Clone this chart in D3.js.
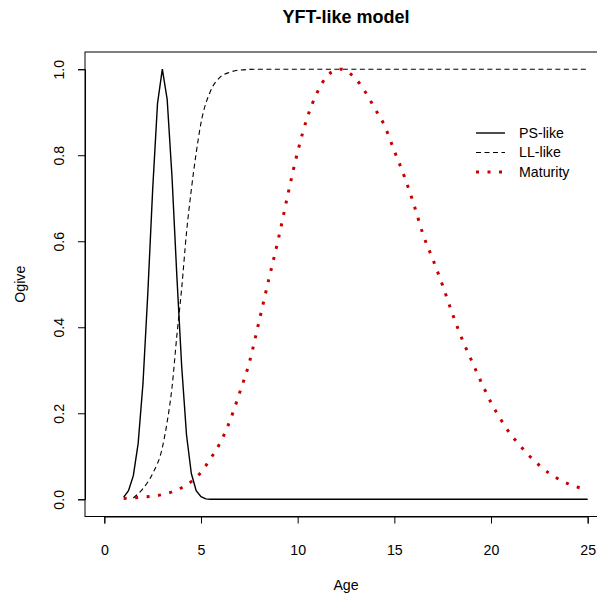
<!DOCTYPE html>
<html>
<head>
<meta charset="utf-8">
<script src="https://cdn.jsdelivr.net/npm/d3@7"></script>
<style>
    body { margin: 0; background: #fff; }
    #chart-area { width: 597px; height: 597px; overflow: hidden; }
    text { font-family: "Liberation Sans", Arial, sans-serif; fill: #000; }
</style>
</head>
<body>
<div id="chart-area"></div>
<script>

// values
let psAges = [1, 1.25, 1.5, 1.75, 2, 2.25, 2.5, 2.75, 3, 3.25, 3.5, 3.75, 4, 4.25, 4.5, 4.75, 5, 5.25, 5.5, 25];
let psLike = [0.005, 0.02, 0.055, 0.13, 0.27, 0.48, 0.72, 0.92, 1.0, 0.93, 0.75, 0.52, 0.31, 0.15, 0.06, 0.02, 0.006, 0.001, 0, 0];

let llAges = [1.5, 2, 2.5, 3, 3.25, 3.5, 3.75, 4, 4.25, 4.5, 4.75, 5, 5.5, 6, 6.5, 7, 8, 25];
let llLike = [0.003, 0.025, 0.06, 0.12, 0.18, 0.26, 0.38, 0.49, 0.62, 0.72, 0.805, 0.875, 0.95, 0.982, 0.993, 0.998, 1.0, 1.0];

let matAges = [1, 2, 3, 4, 5, 5.5, 6, 6.5, 7, 7.5, 8, 8.5, 9, 9.5, 10, 10.5, 11, 11.5, 12, 12.3, 12.5, 13,
    13.5, 14, 14.5, 15, 15.5, 16, 16.5, 17, 17.5, 18, 18.5, 19, 19.5, 20, 20.5, 21, 21.5, 22, 22.5, 23,
    23.5, 24, 24.5, 25];
let maturity = [0.002, 0.005, 0.011, 0.027, 0.063, 0.095, 0.132, 0.183, 0.248, 0.318, 0.413, 0.51, 0.605,
    0.71, 0.808, 0.888, 0.945, 0.983, 0.998, 1.0, 0.996, 0.978, 0.947, 0.908, 0.868, 0.81, 0.753, 0.687,
    0.614, 0.557, 0.497, 0.432, 0.373, 0.322, 0.272, 0.225, 0.186, 0.152, 0.125, 0.1, 0.079, 0.061, 0.047,
    0.036, 0.028, 0.022];

let xTicks = [0, 5, 10, 15, 20, 25];
let yTicks = [0, 0.2, 0.4, 0.6, 0.8, 1.0];
let seriesNames = ["PS-like", "LL-like", "Maturity"];


class OgiveChart {

    constructor(parentElement) {
        this.parentElement = parentElement;
        this.series = [
            {name: seriesNames[0], data: psAges.map((a, i) => [a, psLike[i]]),
             stroke: "#000", width: 1.4, dash: null, curve: d3.curveLinear},
            {name: seriesNames[1], data: llAges.map((a, i) => [a, llLike[i]]),
             stroke: "#000", width: 1.1, dash: "5,3.5", curve: d3.curveMonotoneX},
            {name: seriesNames[2], data: matAges.map((a, i) => [a, maturity[i]]),
             stroke: "#c80000", width: 3, dash: "3,8.5", curve: d3.curveMonotoneX}
        ];
        this.fontSize = 14.2;
        this.initVis();
    }

    initVis() {
        let vis = this;

        vis.margin = {top: 52, right: -10, bottom: 80.5, left: 85};
        vis.width = 597 - vis.margin.left - vis.margin.right;
        vis.height = 597 - vis.margin.top - vis.margin.bottom;

        vis.svg = d3.select("#" + vis.parentElement).append("svg")
            .attr("width", 597)
            .attr("height", 597)
            .append("g")
            .attr("transform", `translate(${vis.margin.left}, ${vis.margin.top})`);

        // R style: axis range padded by 4% on each side
        vis.x = d3.scaleLinear()
            .domain([-1, 26])
            .range([0, vis.width]);
        vis.y = d3.scaleLinear()
            .domain([-0.04, 1.04])
            .range([vis.height, 0]);

        // axes only span the tick range, not the whole box
        let xAxisScale = vis.x.copy().domain([0, 25]).range([vis.x(0), vis.x(25)]);
        let yAxisScale = vis.y.copy().domain([0, 1]).range([vis.y(0), vis.y(1)]);

        vis.xAxis = d3.axisBottom(xAxisScale)
            .tickValues(xTicks)
            .tickFormat(d3.format("d"))
            .tickSizeOuter(0)
            .tickSize(7)
            .tickPadding(21.5);
        vis.yAxis = d3.axisLeft(yAxisScale)
            .tickValues(yTicks)
            .tickFormat(d3.format(".1f"))
            .tickSizeOuter(0)
            .tickSize(7);

        vis.svg.append("g")
            .attr("class", "x-axis axis")
            .attr("transform", `translate(0, ${vis.height})`)
            .call(vis.xAxis);
        vis.svg.append("g")
            .attr("class", "y-axis axis")
            .call(vis.yAxis);

        vis.svg.selectAll(".axis text")
            .attr("font-size", vis.fontSize)
            .attr("font-family", "Liberation Sans, Arial, sans-serif");
        vis.svg.selectAll(".axis path, .axis line")
            .attr("stroke", "#000");

        // rotated y labels, like R's las = 0
        vis.svg.select(".y-axis").selectAll("text")
            .attr("transform", "rotate(-90)")
            .attr("x", 0)
            .attr("y", -26)
            .attr("dy", "0.35em")
            .attr("text-anchor", "middle");

        // plot box
        vis.svg.append("rect")
            .attr("x", 0)
            .attr("y", 0)
            .attr("width", vis.width)
            .attr("height", vis.height)
            .attr("fill", "none")
            .attr("stroke", "#000")
            .attr("stroke-width", 1);

        // titles
        vis.svg.append("text")
            .attr("x", vis.width / 2)
            .attr("y", -29.3)
            .attr("text-anchor", "middle")
            .attr("font-size", 18)
            .attr("font-weight", "bold")
            .text("YFT-like model");
        vis.svg.append("text")
            .attr("x", vis.width / 2)
            .attr("y", vis.height + 73.5)
            .attr("text-anchor", "middle")
            .attr("font-size", vis.fontSize)
            .text("Age");
        vis.svg.append("text")
            .attr("transform", `translate(${20 - vis.margin.left}, ${vis.height / 2}) rotate(-90)`)
            .attr("text-anchor", "middle")
            .attr("dy", "0.35em")
            .attr("font-size", vis.fontSize)
            .text("Ogive");

        vis.updateVis();
    }

    updateVis() {
        let vis = this;

        vis.series.forEach(s => {
            vis.svg.append("path").datum(s.data)
                .attr("fill", "none")
                .attr("stroke", s.stroke)
                .attr("stroke-width", s.width)
                .attr("stroke-dasharray", s.dash)
                .attr("d", d3.line()
                    .curve(s.curve)
                    .x(d => vis.x(d[0]))
                    .y(d => vis.y(d[1]))
                );
        });

        // legend, no box
        let legend = vis.svg.append("g")
            .attr("transform", `translate(${476 - vis.margin.left}, ${133 - vis.margin.top})`);
        vis.series.forEach((s, i) => {
            let row = legend.append("g").attr("transform", `translate(0, ${i * 19.5})`);
            row.append("line")
                .attr("x1", 0).attr("x2", 29)
                .attr("stroke", s.stroke)
                .attr("stroke-width", s.width)
                .attr("stroke-dasharray", s.dash);
            row.append("text")
                .attr("x", 43)
                .attr("dy", "0.35em")
                .attr("font-size", vis.fontSize)
                .text(s.name);
        });
    }
}

let chart = new OgiveChart("chart-area");
</script>
</body>
</html>
